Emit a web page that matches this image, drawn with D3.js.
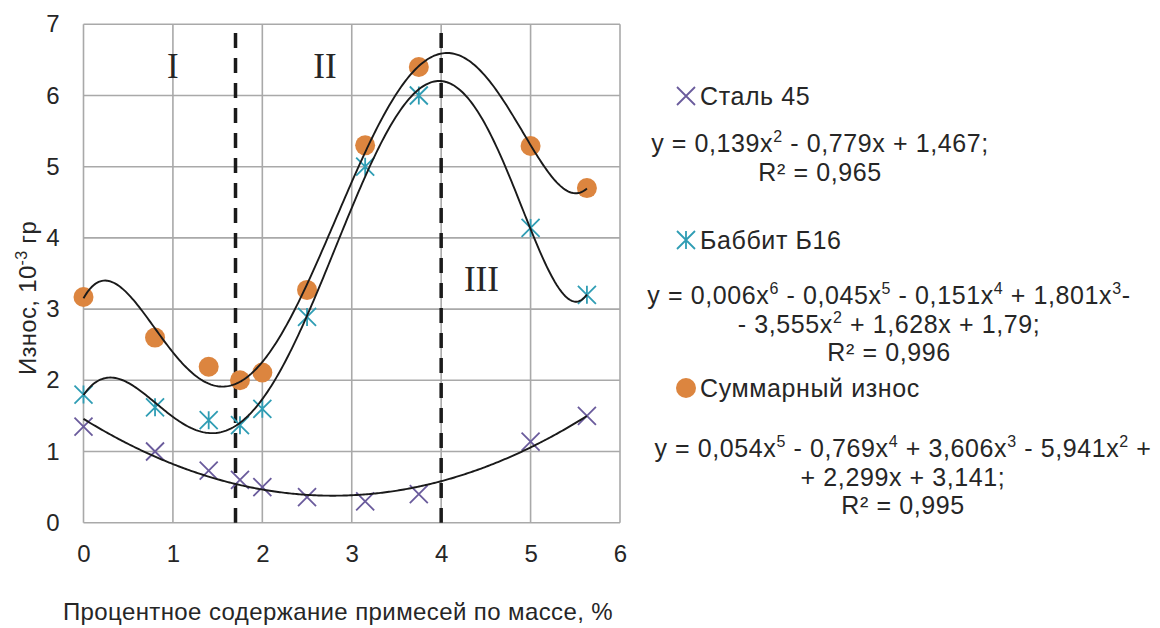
<!DOCTYPE html>
<html>
<head>
<meta charset="utf-8">
<script src="https://cdn.jsdelivr.net/npm/d3@7"></script>
<style>
  html, body { margin: 0; padding: 0; background: #fff; }
  svg { display: block; }
  text { font-family: "Liberation Sans", Arial, sans-serif; fill: #262626; }
</style>
</head>
<body>
<svg id="chart" width="1160" height="628"></svg>
<script>
// ---- data ----
const xValues = [0, 0.8, 1.4, 1.75, 2.0, 2.5, 3.15, 3.75, 5.0, 5.63];
const steel45 = [1.35, 1.00, 0.73, 0.60, 0.50, 0.36, 0.30, 0.40, 1.14, 1.50];
const babbitB16 = [1.80, 1.62, 1.44, 1.37, 1.60, 2.89, 5.00, 6.00, 4.14, 3.20];
const totalWear = [3.17, 2.60, 2.19, 2.00, 2.11, 3.27, 5.30, 6.40, 5.29, 4.70];
const xTicks = [0, 1, 2, 3, 4, 5, 6];
const yTicks = [0, 1, 2, 3, 4, 5, 6, 7];
const zoneBorders = [1.7, 4.0];
const zoneLabels = [
  { text: "I", x: 1.0, y: 6.25 },
  { text: "II", x: 2.7, y: 6.25 },
  { text: "III", x: 4.45, y: 3.25 }
];
const seriesNames = ["Сталь 45", "Баббит Б16", "Суммарный износ"];
const trendDegrees = [2, 6, 5];
const xTitle = "Процентное содержание примесей по массе, %";

const svg = d3.select("#chart");
const x = d3.scaleLinear().domain([0, 6]).range([83.5, 620]);
const y = d3.scaleLinear().domain([0, 7]).range([522.7, 24.3]);

const gridColor = "#a9a9a9";
// grid
svg.append("g").selectAll("line").data(yTicks).join("line")
  .attr("x1", x(0)).attr("x2", x(6))
  .attr("y1", d => y(d)).attr("y2", d => y(d))
  .attr("stroke", gridColor).attr("stroke-width", 1.6);
svg.append("g").selectAll("line").data(xTicks).join("line")
  .attr("y1", y(0)).attr("y2", y(7))
  .attr("x1", d => x(d)).attr("x2", d => x(d))
  .attr("stroke", gridColor).attr("stroke-width", 1.6);

// axes tick labels via d3 axes
const xAxis = svg.append("g").attr("transform", `translate(0,${y(0)})`)
  .call(d3.axisBottom(x).tickValues(xTicks).tickSize(0).tickPadding(22).tickFormat(d3.format("d")));
const yAxis = svg.append("g").attr("transform", `translate(${x(0)},0)`)
  .call(d3.axisLeft(y).tickValues(yTicks).tickSize(0).tickPadding(24).tickFormat(d3.format("d")));
[xAxis, yAxis].forEach(a => {
  a.select(".domain").remove();
  a.selectAll("text").attr("font-size", 24).attr("fill", "#262626")
    .attr("font-family", '"Liberation Sans", Arial, sans-serif');
});

// dashed zone borders
svg.append("g").selectAll("line").data(zoneBorders).join("line")
  .attr("x1", d => x(d)).attr("x2", d => x(d))
  .attr("y1", 33).attr("y2", y(0))
  .attr("stroke", "#1a1a1a").attr("stroke-width", 3.5)
  .attr("stroke-dasharray", "15,10");

// zone labels
svg.append("g").selectAll("text").data(zoneLabels).join("text")
  .attr("x", d => x(d.x)).attr("y", d => y(d.y))
  .attr("text-anchor", "middle")
  .style("font-family", '"Liberation Serif", "Times New Roman", serif')
  .attr("font-size", 35).attr("fill", "#262626")
  .text(d => d.text);

// polynomial least squares fit (Excel-like trendline)
function polyfit(xs, ys, deg) {
  const s = 3;
  const n = deg + 1;
  const A = Array.from({ length: n }, () => new Array(n).fill(0));
  const b = new Array(n).fill(0);
  xs.forEach((xv, k) => {
    const t = xv / s;
    const p = [];
    for (let i = 0; i < n; i++) p.push(Math.pow(t, i));
    for (let i = 0; i < n; i++) {
      b[i] += p[i] * ys[k];
      for (let j = 0; j < n; j++) A[i][j] += p[i] * p[j];
    }
  });
  for (let c = 0; c < n; c++) {
    let piv = c;
    for (let r = c + 1; r < n; r++) if (Math.abs(A[r][c]) > Math.abs(A[piv][c])) piv = r;
    [A[c], A[piv]] = [A[piv], A[c]]; [b[c], b[piv]] = [b[piv], b[c]];
    for (let r = c + 1; r < n; r++) {
      const f = A[r][c] / A[c][c];
      for (let j = c; j < n; j++) A[r][j] -= f * A[c][j];
      b[r] -= f * b[c];
    }
  }
  const coef = new Array(n).fill(0);
  for (let i = n - 1; i >= 0; i--) {
    let sum = b[i];
    for (let j = i + 1; j < n; j++) sum -= A[i][j] * coef[j];
    coef[i] = sum / A[i][i];
  }
  return xv => { const t = xv / s; let v = 0; for (let i = n - 1; i >= 0; i--) v = v * t + coef[i]; return v; };
}

const seriesData = [steel45, babbitB16, totalWear];
const line = d3.line().x(d => x(d[0])).y(d => y(d[1]));
const xMin = d3.min(xValues), xMax = d3.max(xValues);
const samples = d3.range(0, 301).map(i => xMin + (xMax - xMin) * i / 300);

const colors = ["#6a5b9c", "#2f9db4", "#dc853f"];

function drawMarker(g, type, cx, cy) {
  const h = 9;
  if (type === 0) {
    g.append("path").attr("d", `M${cx - h},${cy - h}L${cx + h},${cy + h}M${cx - h},${cy + h}L${cx + h},${cy - h}`)
      .attr("stroke", colors[0]).attr("stroke-width", 1.8).attr("fill", "none");
  } else if (type === 1) {
    g.append("path").attr("d", `M${cx - h},${cy - h}L${cx + h},${cy + h}M${cx - h},${cy + h}L${cx + h},${cy - h}M${cx},${cy - h}L${cx},${cy + h}`)
      .attr("stroke", colors[1]).attr("stroke-width", 1.8).attr("fill", "none");
  } else {
    g.append("circle").attr("cx", cx).attr("cy", cy).attr("r", 10).attr("fill", colors[2]);
  }
}

// markers
seriesData.forEach((vals, si) => {
  const g = svg.append("g");
  vals.forEach((v, i) => drawMarker(g, si, x(xValues[i]), y(v)));
});

// trendlines
seriesData.forEach((vals, si) => {
  const f = polyfit(xValues, vals, trendDegrees[si]);
  svg.append("path").datum(samples.map(xv => [xv, f(xv)]))
    .attr("d", line).attr("fill", "none")
    .attr("stroke", "#1a1a1a").attr("stroke-width", 1.9);
});

// legend
const legendY = [96, 240, 388];
seriesNames.forEach((name, i) => {
  const g = svg.append("g");
  drawMarker(g, i, 686, legendY[i]);
  g.append("text").attr("x", 700).attr("y", legendY[i] + 9).attr("font-size", 25)
    .attr("letter-spacing", 0.6).text(name);
});

// equations: arrays of lines; each line array of [text, isSuperscript]
const equations = [
  { cx: 820, y0: 152, lines: [
    [["y = 0,139x", 0], ["2", 1], [" - 0,779x + 1,467;", 0]],
    [["R² = 0,965", 0]]
  ]},
  { cx: 889, y0: 304, lines: [
    [["y = 0,006x", 0], ["6", 1], [" - 0,045x", 0], ["5", 1], [" - 0,151x", 0], ["4", 1], [" + 1,801x", 0], ["3", 1], ["-", 0]],
    [["- 3,555x", 0], ["2", 1], [" + 1,628x + 1,79;", 0]],
    [["R² = 0,996", 0]]
  ]},
  { cx: 903, y0: 457, lines: [
    [["y = 0,054x", 0], ["5", 1], [" - 0,769x", 0], ["4", 1], [" + 3,606x", 0], ["3", 1], [" - 5,941x", 0], ["2", 1], [" +", 0]],
    [["+ 2,299x + 3,141;", 0]],
    [["R² = 0,995", 0]]
  ]}
];
equations.forEach(eq => {
  eq.lines.forEach((parts, li) => {
    const t = svg.append("text").attr("x", eq.cx).attr("y", eq.y0 + li * 28.5)
      .attr("text-anchor", "middle").attr("font-size", 25).attr("letter-spacing", 0.6);
    parts.forEach(([s, sup]) => {
      if (sup) {
        t.append("tspan").attr("dy", -10).attr("font-size", 16).text(s);
      } else {
        const ts = t.append("tspan").text(s);
        if (t.node().childNodes.length > 1) {
          const prev = t.node().childNodes[t.node().childNodes.length - 2];
          if (prev.getAttribute("font-size") === "16") ts.attr("dy", 10);
        }
      }
    });
  });
});

// axis titles
svg.append("text").attr("x", 338).attr("y", 620).attr("text-anchor", "middle")
  .attr("font-size", 24).attr("letter-spacing", 0.4).text(xTitle);
const yt = svg.append("text").attr("transform", "translate(36,298) rotate(-90)")
  .attr("text-anchor", "middle").attr("font-size", 24).attr("letter-spacing", 0.3);
yt.append("tspan").text("Износ, 10");
yt.append("tspan").attr("dy", -9).attr("font-size", 16).text("-3");
yt.append("tspan").attr("dy", 9).text(" гр");
</script>
</body>
</html>
